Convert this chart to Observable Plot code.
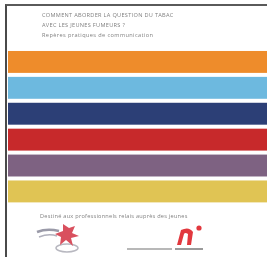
<!DOCTYPE html>
<html>
<head>
<meta charset="utf-8">
<script src="https://cdn.jsdelivr.net/npm/d3@7"></script>
<script src="https://cdn.jsdelivr.net/npm/@observablehq/plot@0.6"></script>
<style>
  html, body { margin: 0; padding: 0; background: #fff; }
  body { width: 267px; height: 257px; overflow: hidden; position: relative; font-family: "Open Sans", "DejaVu Sans", sans-serif; }
  #page { position: absolute; left: 5px; top: 4px; width: 262px; height: 253px; border-left: 2px solid #4a4a4a; border-top: 2px solid #5a5a5a; box-sizing: border-box; filter: blur(0.5px); }
  .t { position: absolute; color: #808080; white-space: nowrap; font-size: 5.6px; line-height: 6px; }
  #chart { position: absolute; left: 1px; top: 38px; }
  .logo { position: absolute; }
</style>
</head>
<body>
<div id="page">
  <div class="t" style="left:35px;top:6px;letter-spacing:0.3px">COMMENT ABORDER LA QUESTION DU TABAC</div>
  <div class="t" style="left:35px;top:16px;letter-spacing:0.3px">AVEC LES JEUNES FUMEURS ?</div>
  <div class="t" style="left:35px;top:26px;letter-spacing:0.4px">Repères pratiques de communication</div>
  <div id="chart"></div>
  <div class="t" id="caption" style="left:33px;top:207px;letter-spacing:0.25px">Destiné aux professionnels relais auprès des jeunes</div>
  <svg class="logo" style="left:28px;top:214px" width="50" height="34" viewBox="0 0 50 34">
    <path d="M2 12 Q12 8 24 11" stroke="#9a9aa8" stroke-width="2.5" fill="none"/>
    <path d="M4 17 Q14 13 22 16" stroke="#b0b0bc" stroke-width="1.5" fill="none"/>
    <ellipse cx="32" cy="28" rx="11" ry="4" fill="none" stroke="#b8b8c0" stroke-width="1.5"/>
    <path d="M28 4 L34 8 L40 6 L37 13 L44 16 L36 18 L38 26 L31 20 L25 25 L26 17 L20 14 L28 11 Z" fill="#d9505e"/>
  </svg>
  <svg class="logo" style="left:112px;top:214px" width="90" height="30" viewBox="0 0 90 30">
    <path d="M58 25 L62 10 Q70 6 74 12 L72 25 L68 25 L69 14 Q66 12 65 14 L62 25 Z" fill="#e2383e"/>
    <circle cx="80" cy="8" r="2.6" fill="#e2383e"/>
    <rect x="8" y="28" width="45" height="2.5" fill="#b8b8b8"/>
    <rect x="56" y="28" width="28" height="2.5" fill="#9a9a9a"/>
  </svg>
</div>
<script>
// Stripes (top to bottom) and their colours
const stripes = ["orange", "light blue", "navy", "red", "purple", "yellow"];
const stripeValues = [1, 1, 1, 1, 1, 1];
const stripeColors = ["#ee8c2b", "#6db9df", "#2c3f76", "#c7292b", "#7e6282", "#e0c454"];

const data = stripes.map((s, i) => ({stripe: s, value: stripeValues[i]}));

const chart = Plot.plot({
  width: 260,
  height: 165,
  marginTop: 5,
  marginBottom: 4,
  marginLeft: 0,
  marginRight: 0,
  x: {axis: null, domain: [0, 1]},
  y: {axis: null, domain: stripes, paddingInner: 0.15, paddingOuter: 0},
  color: {domain: stripes, range: stripeColors},
  marks: [
    Plot.barX(data, {x: "value", y: "stripe", fill: "stripe"})
  ]
});
document.getElementById("chart").appendChild(chart);
</script>
</body>
</html>
